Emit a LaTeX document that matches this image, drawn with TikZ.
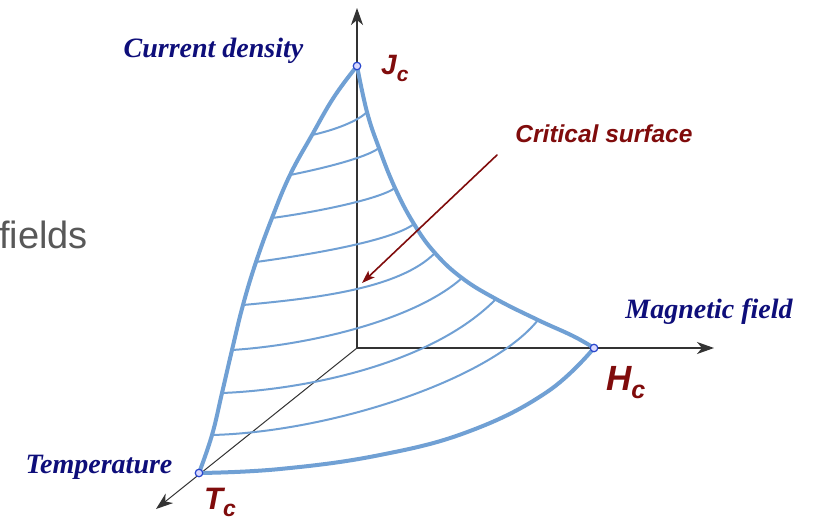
\documentclass[tikz,border=0pt]{standalone}
\usepackage{fontspec}
\setmainfont{Liberation Serif}
\newfontfamily\arialfont{Liberation Sans}
\usetikzlibrary{arrows.meta}
\definecolor{surfblue}{RGB}{112,160,212}
\definecolor{labelblue}{RGB}{14,14,122}
\definecolor{critred}{RGB}{128,12,12}
\definecolor{textgray}{RGB}{88,88,88}
\definecolor{dotblue}{RGB}{40,70,205}
% symbol with a lowered c, sans bold italic
\newcommand{\critsym}[3]{{\arialfont\bfseries\itshape\fontsize{#2}{#2}\selectfont
  #1\raisebox{-.25em}{\fontsize{#3}{#3}\selectfont c}}}

\begin{document}
\begin{tikzpicture}[x=1pt,y=-1pt,line cap=round,line join=round,
  axis/.style={black!80,line width=1.4pt,-{Stealth[length=17pt,width=12pt,inset=5pt]}},
  rim/.style={surfblue,line width=4pt},
  hatch/.style={surfblue,line width=2pt},
  axislabel/.style={labelblue,anchor=base,inner sep=0,
    font=\bfseries\itshape\fontsize{28}{30}\selectfont},
  critlabel/.style={critred,anchor=base west,inner sep=0},
  critdot/.style={circle,draw=dotblue,fill=blue!15,line width=1.2pt,
    inner sep=0,minimum size=7.5pt}]
  \path[use as bounding box,fill=white] (0,0) rectangle (816,525);

  % axes
  \coordinate (o) at (357,348);
  \coordinate (jtip) at (357,8);
  \coordinate (htip) at (714,348);
  \coordinate (ttip) at (156,509);
  \draw[axis] (o) -- (jtip);
  \draw[axis] (o) -- (htip);
  \draw[axis,line width=1pt] (o) -- (ttip);

  % corners of the critical surface
  \coordinate (jcpt) at (357,66);
  \coordinate (hcpt) at (594,348);
  \coordinate (tcpt) at (199,473);
  % ends of the hatching, left and right rim
  \coordinate (l1) at (312,135); \coordinate (r1) at (367,112);
  \coordinate (l2) at (290,175); \coordinate (r2) at (379,148);
  \coordinate (l3) at (272,218); \coordinate (r3) at (395,188);
  \coordinate (l4) at (256,262); \coordinate (r4) at (414,224);
  \coordinate (l5) at (243,305); \coordinate (r5) at (435,253);
  \coordinate (l6) at (232,350); \coordinate (r6) at (462,278);
  \coordinate (l7) at (222,393); \coordinate (r7) at (496,299);
  \coordinate (l8) at (212,435); \coordinate (r8) at (538,320);

  \draw[hatch] (l1) .. controls (335,130) and (358,121) .. (r1);
  \draw[hatch] (l2) .. controls (320,169) and (366,158) .. (r2);
  \draw[hatch] (l3) .. controls (310,213) and (378,200) .. (r3);
  \draw[hatch] (l4) .. controls (300,256) and (390,242) .. (r4);
  \draw[hatch] (l5) .. controls (320,298) and (400,288) .. (r5);
  \draw[hatch] (l6) .. controls (310,345) and (415,320) .. (r6);
  \draw[hatch] (l7) .. controls (300,390) and (430,366) .. (r7);
  \draw[hatch] (l8) .. controls (330,432) and (490,380) .. (r8);

  \draw[rim] plot[smooth,tension=.7] coordinates
    {(jcpt) (334,97) (l1) (l2) (l3) (l4) (l5) (l6) (l7) (l8) (tcpt)};
  \draw[rim] plot[smooth,tension=.7] coordinates
    {(jcpt) (r1) (r2) (r3) (r4) (r5) (r6) (r7) (r8) (573,336) (hcpt)};
  \draw[rim] plot[smooth,tension=.7] coordinates
    {(tcpt) (280,469) (380,455) (470,431) (547,392) (hcpt)};

  \node[critdot] (jdot) at (jcpt) {};
  \node[critdot] (hdot) at (hcpt) {};
  \node[critdot] (tdot) at (tcpt) {};

  % labels
  \node[axislabel] (jname) at (213.5,57) {Current density};
  \node[axislabel] (hname) at (709,318) {Magnetic field};
  \node[axislabel] (tname) at (99,473) {Temperature};
  \node[critlabel] (jc) at (381,74) {\critsym{J}{28}{21}};
  \node[critlabel] (hc) at (606,390) {\critsym{H}{35}{25}};
  \node[critlabel] (tc) at (204,509) {\critsym{T}{31}{23}};
  \node[critred,anchor=base,inner sep=0,
    font=\arialfont\bfseries\itshape\fontsize{24.5}{26}\selectfont]
    (surfname) at (604,142) {Critical surface};
  \coordinate (surftail) at (497,155);
  \coordinate (surfhead) at (362,283);
  \draw[critred,line width=1.6pt,-{Stealth[length=13pt,width=9pt,inset=3pt]}]
    (surftail) -- (surfhead);
  \node[textgray,anchor=base east,inner sep=0,
    font=\arialfont\fontsize{38}{40}\selectfont] (cutoff) at (88,248) {fields};
\end{tikzpicture}
\end{document}
